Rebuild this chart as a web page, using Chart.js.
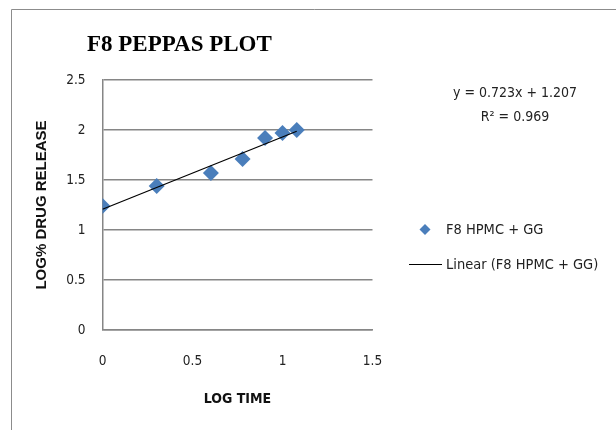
<!DOCTYPE html>
<html>
<head>
<meta charset="utf-8">
<script src="https://cdn.jsdelivr.net/npm/chart.js@4.4.0/dist/chart.umd.min.js"></script>
<style>
  html, body { margin: 0; padding: 0; background: #fff; }
  #wrap { width: 616px; height: 430px; position: relative; }
</style>
</head>
<body>
<div id="wrap"><canvas id="grafico"></canvas></div>
<script>
// Dados do gráfico
const logTempo = [0, 0.301, 0.602, 0.778, 0.903, 1.0, 1.079];
const logLiberacao = [1.24, 1.44, 1.57, 1.71, 1.92, 1.97, 2.0];
const inclinacao = [0.723];
const intercepto = [1.207];
const r2 = [0.969];
const ticksX = [0, 0.5, 1, 1.5];
const ticksY = [0, 0.5, 1, 1.5, 2, 2.5];

const serie = 'F8 HPMC + GG';
const fonteTexto = '"DejaVu Sans Condensed", "Liberation Sans Narrow", "Noto Sans", sans-serif';
const azul = '#4A7EBB';
const cinza = '#868686';

// Linha de tendência a partir da equação
const xMin = Math.min(...logTempo);
const xMax = Math.max(...logTempo);
const tendencia = [
    { x: xMin, y: inclinacao[0] * xMin + intercepto[0] },
    { x: xMax, y: inclinacao[0] * xMax + intercepto[0] }
];

// Plugin para título, moldura, equação e legenda
const extras = {
    id: 'extras',
    beforeDraw(chart) {
        const ctx = chart.ctx;
        ctx.save();
        ctx.strokeStyle = '#8c8c8c';
        ctx.lineWidth = 1;
        ctx.beginPath();
        ctx.moveTo(11.5, 440);
        ctx.lineTo(11.5, 9.5);
        ctx.lineTo(640, 9.5);
        ctx.stroke();
        ctx.restore();
    },
    afterDraw(chart) {
        const ctx = chart.ctx;
        ctx.save();
        // título
        ctx.fillStyle = '#000';
        ctx.font = 'bold 23px "Liberation Serif", "DejaVu Serif", serif';
        ctx.textBaseline = 'middle';
        ctx.textAlign = 'left';
        ctx.fillText('F8 PEPPAS PLOT', 87, 45);

        // equação
        ctx.font = '14px ' + fonteTexto;
        ctx.textAlign = 'center';
        ctx.fillStyle = '#222';
        ctx.fillText('y = ' + inclinacao[0] + 'x + ' + intercepto[0].toFixed(3), 515, 93);
        ctx.fillText('R² = ' + r2[0], 515, 117);

        // legenda
        ctx.fillStyle = azul;
        ctx.beginPath();
        ctx.moveTo(425, 224);
        ctx.lineTo(430.5, 229.5);
        ctx.lineTo(425, 235);
        ctx.lineTo(419.5, 229.5);
        ctx.closePath();
        ctx.fill();
        ctx.strokeStyle = '#000';
        ctx.lineWidth = 1;
        ctx.beginPath();
        ctx.moveTo(409, 264.5);
        ctx.lineTo(442, 264.5);
        ctx.stroke();
        ctx.fillStyle = '#222';
        ctx.textAlign = 'left';
        ctx.font = '14.5px ' + fonteTexto;
        ctx.fillText(serie, 446, 230);
        ctx.fillText('Linear (' + serie + ')', 446, 265);
        ctx.restore();
    }
};

function gerarGrafico() {
    const ctx = document.getElementById('grafico').getContext('2d');
    new Chart(ctx, {
        type: 'scatter',
        data: {
            datasets: [
                {
                    label: serie,
                    data: logTempo.map((x, i) => ({ x: x, y: logLiberacao[i] })),
                    pointStyle: 'rectRot',
                    pointRadius: 8,
                    pointBackgroundColor: azul,
                    pointBorderColor: azul,
                    pointBorderWidth: 0,
                    showLine: false,
                    order: 2
                },
                {
                    label: 'Linear (' + serie + ')',
                    data: tendencia,
                    showLine: true,
                    borderColor: '#000',
                    borderWidth: 1.2,
                    pointRadius: 0,
                    fill: false,
                    order: 1
                }
            ]
        },
        options: {
            responsive: true,
            maintainAspectRatio: false,
            animation: false,
            layout: { padding: { left: 0, top: 80, right: 616 - 372.5, bottom: 0 } },
            scales: {
                x: {
                    type: 'linear',
                    min: 0,
                    max: 1.5,
                    afterFit: s => { s.height = 100; },
                    afterBuildTicks: s => { s.ticks = ticksX.map(v => ({ value: v })); },
                    ticks: {
                        padding: 23,
                        color: '#222',
                        font: { family: fonteTexto, size: 13.5 },
                        callback: v => String(v)
                    },
                    grid: { display: false, drawTicks: false },
                    border: { display: true, color: cinza, width: 1.5 },
                    title: {
                        display: true,
                        text: 'LOG TIME',
                        color: '#111',
                        font: { family: fonteTexto, size: 14, weight: 'bold' },
                        padding: { top: 22, bottom: 22 }
                    }
                },
                y: {
                    min: 0,
                    max: 2.5,
                    afterFit: s => { s.width = 102.5; },
                    afterBuildTicks: s => { s.ticks = ticksY.map(v => ({ value: v })); },
                    ticks: {
                        padding: 17,
                        color: '#222',
                        font: { family: fonteTexto, size: 13.5 },
                        callback: v => String(v)
                    },
                    grid: { color: cinza, lineWidth: 1.5, drawTicks: false },
                    border: { display: true, color: cinza, width: 1.5 },
                    title: {
                        display: true,
                        text: 'LOG% DRUG RELEASE',
                        color: '#111',
                        font: { family: '"Liberation Sans", Arial, sans-serif', size: 15, weight: 'bold' },
                        padding: { top: 33, bottom: 0 }
                    }
                }
            },
            plugins: {
                legend: { display: false },
                tooltip: { enabled: false }
            }
        },
        plugins: [extras]
    });
}

window.onload = function () {
    gerarGrafico();
};
</script>
</body>
</html>
